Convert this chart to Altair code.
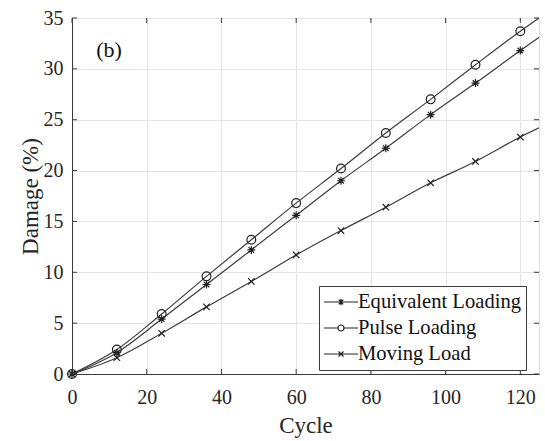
import altair as alt
import pandas as pd

# Damage accumulated over loading cycles, sampled every 12 cycles
cycles = [0, 12, 24, 36, 48, 60, 72, 84, 96, 108, 120]
equivalent = [0, 2.1, 5.4, 8.8, 12.2, 15.6, 19.0, 22.2, 25.5, 28.6, 31.8]
pulse = [0, 2.4, 5.9, 9.6, 13.2, 16.8, 20.2, 23.7, 27.0, 30.4, 33.7]
moving = [0, 1.6, 4.0, 6.6, 9.1, 11.7, 14.1, 16.4, 18.8, 20.9, 23.3]
series_names = ["Equivalent Loading", "Pulse Loading", "Moving Load"]

# curves continue (without markers) to the right edge of the axes
edge_cycle = 125
edge_values = [33.1, 35.0, 24.2]

x_ticks = [0, 20, 40, 60, 80, 100, 120]
y_ticks = [0, 5, 10, 15, 20, 25, 30, 35]

rows = []
for name, vals in zip(series_names, [equivalent, pulse, moving]):
    for c, v in zip(cycles, vals):
        rows.append({"series": name, "cycle": c, "damage": v})
markers = pd.DataFrame(rows)
edge = pd.DataFrame({"series": series_names,
                     "cycle": [edge_cycle] * len(series_names),
                     "damage": edge_values})
curves = pd.concat([markers, edge], ignore_index=True)

W, H = 467, 356
FONT = "Liberation Serif"
AX = "#3a3a3a"
INK = "#3c3c3c"

x_scale = alt.Scale(domain=[0, 125], nice=False, zero=False)
y_scale = alt.Scale(domain=[0, 35], nice=False)

x_axis = alt.Axis(values=x_ticks, grid=True, gridColor="#e4e4e4", ticks=False,
                  domainColor=AX, labelFont=FONT, labelFontSize=20, labelColor="#262626",
                  labelBaseline="alphabetic", labelPadding=29, labelFlush=False,
                  labelOverlap=False, title="Cycle", titleFont=FONT, titleFontSize=23,
                  titleFontWeight="normal", titleColor="#262626", titleY=58,
                  titleBaseline="alphabetic")
y_axis = alt.Axis(values=y_ticks, grid=True, gridColor="#e4e4e4", ticks=False,
                  domainColor=AX, labelFont=FONT, labelFontSize=20, labelColor="#262626",
                  labelPadding=9, labelFlush=False, labelOverlap=False,
                  title="Damage (%)", titleFont=FONT, titleFontSize=23,
                  titleFontWeight="normal", titleColor="#262626", titleAngle=270,
                  titleX=-35, titleY=H / 2, titleBaseline="alphabetic")


def xq(field="cycle"):
    return alt.X(f"{field}:Q", scale=x_scale, axis=x_axis)


def yq(field="damage"):
    return alt.Y(f"{field}:Q", scale=y_scale, axis=y_axis)


# marker glyphs: asterisk, open circle, x-cross
marker_paths = [
    "M-1,0H1M0,-1V1M-0.7,-0.7L0.7,0.7M-0.7,0.7L0.7,-0.7",
    "M-1.1,0A1.1,1.1 0 1,1 1.1,0A1.1,1.1 0 1,1 -1.1,0",
    "M-0.8,-0.8L0.8,0.8M-0.8,0.8L0.8,-0.8",
]
# legend glyphs: a line segment through a small marker
legend_paths = [
    "M-1.7,0H1.7M0,-0.32V0.32M-0.23,-0.23L0.23,0.23M-0.23,0.23L0.23,-0.23",
    "M-1.7,0H-0.3M0.3,0H1.7M-0.3,0A0.3,0.3 0 1,1 0.3,0A0.3,0.3 0 1,1 -0.3,0",
    "M-1.7,0H1.7M-0.25,-0.25L0.25,0.25M-0.25,0.25L0.25,-0.25",
]

lines = alt.Chart(curves).mark_line(
    interpolate="monotone", color=INK, strokeWidth=1.2, clip=True
).encode(x=xq(), y=yq(), detail="series:N")

points = alt.Chart(markers).mark_point(
    filled=False, color="#222222", size=64, strokeWidth=1.2, opacity=1
).encode(
    x=xq(), y=yq(),
    shape=alt.Shape("series:N", scale=alt.Scale(domain=series_names, range=marker_paths),
                    legend=None),
)

# key entries, placed off the axes so only the legend shows them
key = pd.DataFrame({"entry": series_names, "cycle": [-20] * 3, "damage": [10] * 3})
key_layer = alt.Chart(key).mark_point(
    filled=False, color="#222222", size=400, strokeWidth=1.2, opacity=1, clip=True
).encode(
    x=xq(), y=yq(),
    shape=alt.Shape(
        "entry:N",
        scale=alt.Scale(domain=series_names, range=legend_paths),
        legend=alt.Legend(title=None, orient="none", legendX=247, legendY=268,
                          padding=5, rowPadding=4, labelFont=FONT, labelFontSize=20.6,
                          labelColor="#111111", labelOffset=6, labelLimit=400,
                          symbolSize=400, symbolOffset=6, symbolStrokeWidth=1.2,
                          symbolStrokeColor="#222222", symbolFillColor="transparent",
                          strokeColor=INK, fillColor="white"),
    ),
)

# inward tick marks on all four sides
xt = pd.DataFrame({"cycle": x_ticks})
yt = pd.DataFrame({"damage": y_ticks})
tick_bottom = alt.Chart(xt).mark_rule(color=AX).encode(
    x=xq(), y=alt.value(H), y2=alt.value(H - 5))
tick_top = alt.Chart(xt).mark_rule(color=AX).encode(
    x=xq(), y=alt.value(0), y2=alt.value(5))
tick_left = alt.Chart(yt).mark_rule(color=AX).encode(
    y=yq(), x=alt.value(0), x2=alt.value(5))
tick_right = alt.Chart(yt).mark_rule(color=AX).encode(
    y=yq(), x=alt.value(W), x2=alt.value(W - 5))

panel_tag = alt.Chart(pd.DataFrame({"tag": ["(b)"]})).mark_text(
    font=FONT, fontSize=22, color="#111111", baseline="middle", align="center"
).encode(x=alt.value(37), y=alt.value(32), text="tag:N")

chart = alt.layer(
    lines, points, key_layer, tick_bottom, tick_top, tick_left, tick_right, panel_tag
).resolve_scale(
    shape="independent"
).resolve_legend(
    shape="independent"
).properties(
    width=W, height=H,
    autosize=alt.AutoSizeParams(type="none"),
    padding={"left": 72, "top": 18, "right": 6, "bottom": 67},
    background="white",
).configure_view(
    stroke=AX, strokeWidth=1
).configure(font=FONT)

chart.save("out.html", embed_options={"renderer": "svg", "actions": False})
